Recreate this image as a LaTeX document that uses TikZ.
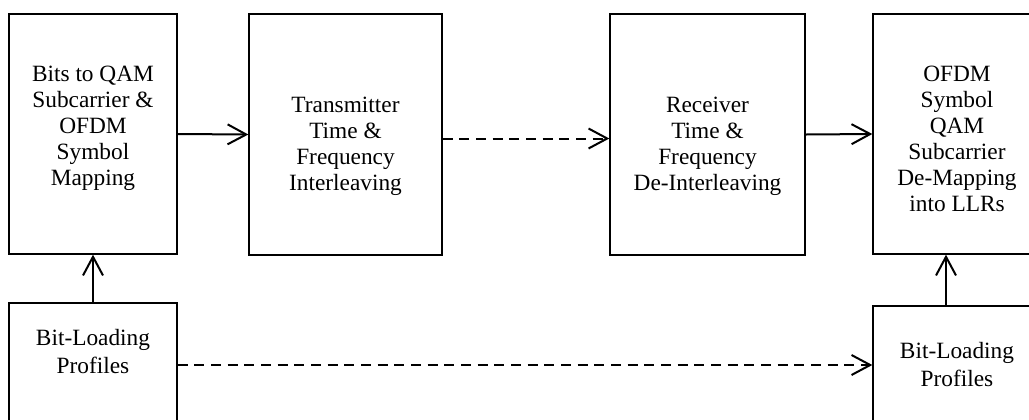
\documentclass[tikz,border=0pt]{standalone}
\usepackage{fontspec}
\setmainfont{Liberation Serif}
\usetikzlibrary{arrows.meta}
\tikzset{
  blk/.style={draw, line width=1pt, rectangle, inner sep=0pt},
  lbl/.style={align=center, inner sep=0pt, font=\fontsize{17.5}{19.5}\selectfont},
  lblb/.style={lbl, font=\fontsize{17.5}{21}\selectfont},
  conn/.style={line width=1.5pt, -{Straight Barb[length=14pt, width=15pt, line width=1.5pt]}},
  dconn/.style={conn, dash pattern=on 7.5pt off 5pt}
}
\begin{document}
\begin{tikzpicture}[x=0.75pt,y=-0.75pt]
\useasboundingbox (0,0) rectangle (1029,419);
\clip (0,0) rectangle (1029,419);
\node[blk, minimum width=126pt, minimum height=180pt] (b1) at (93,134) {};
\node[lbl] (b1t) at (93,128) {Bits to QAM\\Subcarrier \&\\OFDM\\Symbol\\Mapping};
\node[blk, minimum width=144.75pt, minimum height=180.75pt] (b2) at (345.5,134.5) {};
\node[lbl] (b2t) at (345.5,146) {Transmitter\\Time \&\\Frequency\\Interleaving};
\node[blk, minimum width=146.25pt, minimum height=180.75pt] (b3) at (707.5,134.5) {};
\node[lbl] (b3t) at (707.5,146) {Receiver\\Time \&\\Frequency\\De-Interleaving};
\node[blk, minimum width=126pt, minimum height=180pt] (b4) at (957,134) {};
\node[lbl] (b4t) at (957,138.5) {OFDM\\Symbol\\QAM\\Subcarrier\\De-Mapping\\into LLRs};
\node[blk, minimum width=126pt, minimum height=93pt] (bl) at (93,365) {};
\node[lblb] (blt) at (93,352) {Bit-Loading\\Profiles};
\node[blk, minimum width=126pt, minimum height=88.5pt] (br) at (957,365) {};
\node[lblb] (brt) at (957,365) {Bit-Loading\\Profiles};
\draw[conn] (b1.east) -- (b2.west);
\draw[dconn] ([yshift=-3pt]b2.east) -- ([yshift=-3pt]b3.west);
\draw[conn] (b3.east) -- (b4.west);
\draw[conn] (bl.north) -- (b1.south);
\draw[conn] ([xshift=-8.25pt]br.north) -- ([xshift=-8.25pt]b4.south);
\draw[dconn] (bl.east) -- (br.west);
\end{tikzpicture}
\end{document}
